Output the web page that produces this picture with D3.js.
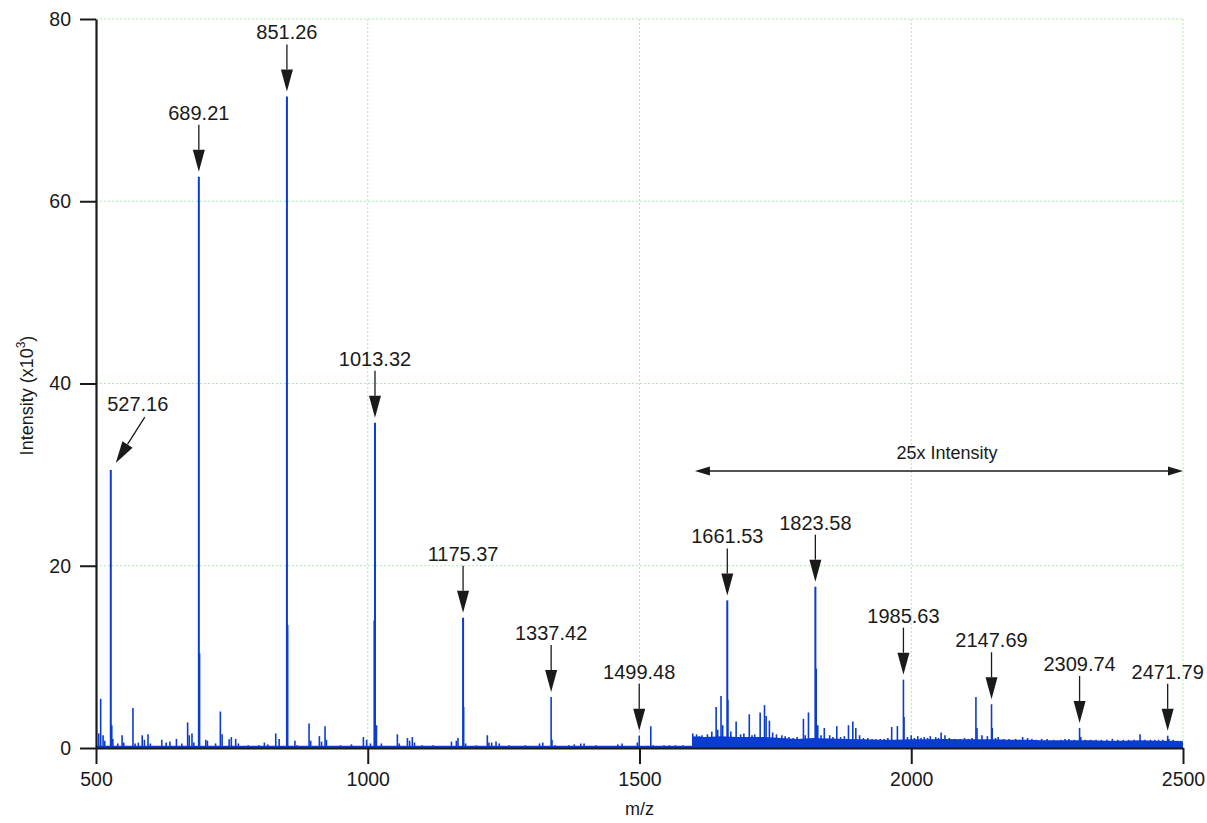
<!DOCTYPE html>
<html>
<head>
<meta charset="utf-8">
<script src="https://cdn.jsdelivr.net/npm/d3@7/dist/d3.min.js"></script>
<style>
  html, body { margin: 0; padding: 0; background: #fff; }
  svg { display: block; font-family: Arial, "Liberation Sans", sans-serif; }
</style>
</head>
<body>
<svg id="chart" width="1207" height="823"></svg>
<script>
// ---------------- DATA ----------------
const xTicks = [500, 1000, 1500, 2000, 2500];
const yTicks = [0, 20, 40, 60, 80];

// Peaks below 1600 m/z : [m/z, intensity (x10^3)]
const lowPeaks = [
  [505,1.6],[508.6,5.4],[513,1.4],[516,0.8],[527.2,30.5],[529,2.5],[531,1.0],[540,0.5],
  [548,1.4],[551,0.6],[568,4.4],[572,0.5],[578,0.6],[585,1.4],[589,0.9],[595.7,1.5],
  [600,0.5],[621,0.9],[629,0.6],[636,0.7],[648,1.0],[658,0.5],[668.6,2.8],[671.6,1.4],
  [676.6,1.6],[680,0.6],[689.2,62.7],[690.2,10.4],[702,0.9],[705,0.8],[720,0.5],[728.8,4.0],
  [732,1.5],[745,0.95],[749,1.2],[757,1.0],[762,0.5],[780,0.3],[800,0.3],[809.8,0.6],
  [816,0.4],[830.7,1.6],[837,1.0],[851.3,71.5],[852.3,13.5],[866,0.8],[870,0.3],[892,2.7],
  [895,0.8],[911,1.3],[915,0.7],[921.4,2.4],[924,0.9],[950,0.3],[970,0.4],[992,1.2],
  [998,0.9],[1005,0.5],[1013.3,35.7],[1012.3,14.0],[1016,2.5],[1025,0.5],[1054.5,1.5],[1058,0.5],
  [1073,1.1],[1077,0.8],[1082,1.2],[1086,0.6],[1100,0.3],[1120,0.3],[1154,0.7],[1163,0.8],
  [1166,1.1],[1175.4,14.3],[1176.4,4.5],[1180,0.5],[1200,0.3],[1220,1.4],[1223,0.6],[1228,0.6],
  [1236,0.7],[1242,0.5],[1260,0.3],[1290,0.3],[1316,0.5],[1322,0.6],[1337.4,5.6],[1339,0.9],
  [1345,0.3],[1370,0.3],[1380,0.4],[1392,0.5],[1398,0.5],[1420,0.3],[1460,0.4],[1468,0.5],
  [1496,0.6],[1499.5,1.35],[1520.8,2.4],[1525,0.3],[1545,0.3],[1555,0.3],[1566,0.3],[1580,0.3]
];

// Peaks in the 25x intensity region : [m/z, intensity (x10^3)]
const highPeaks = [
  [1598,1.6],[1605,1.5],[1610,1.3],[1615,1.4],[1620,1.2],[1625,1.5],[1633,1.8],[1641,4.5],
  [1644,2.0],[1650,5.7],[1653,2.5],[1661.5,16.2],[1662.6,5.3],[1668,1.8],[1677.8,2.9],[1686,1.5],
  [1692,1.6],[1702,3.7],[1707,1.4],[1712,1.5],[1722,3.9],[1730,4.7],[1733,3.5],[1739,3.0],
  [1745,1.7],[1752,1.5],[1762,1.4],[1768,1.3],[1775,1.2],[1783,1.1],[1790,1.2],[1801.6,3.2],
  [1805,1.4],[1810.9,3.9],[1823.6,17.7],[1824.7,8.7],[1828,2.5],[1834,1.4],[1840,2.2],[1850,1.4],
  [1856,1.2],[1863,2.4],[1870,1.2],[1877,1.3],[1884.5,2.5],[1892.5,2.9],[1898,2.2],[1905,1.4],
  [1912,1.1],[1920,1.1],[1928,1.0],[1935,1.0],[1943,1.0],[1950,1.0],[1957,1.1],[1964,2.3],
  [1974.5,2.4],[1985.6,7.5],[1986.7,3.4],[1993,1.2],[2000,1.4],[2006,1.1],[2012,1.3],[2018,1.1],
  [2024,1.2],[2030,1.1],[2035,1.3],[2045,1.2],[2050,1.1],[2055,1.7],[2062,1.4],[2070,1.1],
  [2080,1.0],[2090,1.0],[2098,1.1],[2105,1.0],[2112,1.1],[2119,5.6],[2121,2.2],[2130,1.4],
  [2140,1.3],[2147.7,4.8],[2149,2.2],[2155,1.1],[2160,1.2],[2170,1.0],[2180,1.0],[2192,1.0],
  [2205,1.2],[2214,1.1],[2222,1.0],[2230,0.9],[2240,1.0],[2250,1.0],[2262,0.9],[2275,0.9],
  [2283,1.0],[2290,1.0],[2300,0.9],[2309.7,2.2],[2312,1.2],[2320,0.9],[2330,0.9],[2340,0.9],
  [2350,0.9],[2360,0.9],[2370,1.0],[2380,0.9],[2390,0.9],[2400,0.9],[2410,0.9],[2421,1.5],
  [2430,0.9],[2440,0.9],[2448,0.9],[2455,0.9],[2463,0.9],[2471.8,1.35],[2474,1.0],[2482,0.9],
  [2490,0.8],[2496,0.8]
];

// Baseline (noise floor) level : [m/z, intensity (x10^3)]
const lowBaseline = [[500,0.25],[1597,0.25]];
const highBaseline = [
  [1597,1.3],[1620,1.2],[1650,1.3],[1680,1.2],[1700,1.2],[1730,1.2],[1760,1.1],[1790,1.0],
  [1820,1.1],[1850,1.05],[1880,1.0],[1910,0.95],[1940,0.9],[1970,0.9],[2000,0.95],[2030,0.95],
  [2060,1.0],[2090,0.95],[2120,0.95],[2150,0.95],[2180,0.9],[2210,0.9],[2240,0.85],[2270,0.85],
  [2300,0.85],[2330,0.85],[2360,0.8],[2390,0.8],[2420,0.85],[2450,0.8],[2480,0.8],[2500,0.75]
];

// Annotated peaks
const annLabels = ["527.16","689.21","851.26","1013.32","1175.37","1337.42","1499.48",
                   "1661.53","1823.58","1985.63","2147.69","2309.74","2471.79"];
const annMz     = [527.16, 689.21, 851.26, 1013.32, 1175.37, 1337.42, 1499.48,
                   1661.53, 1823.58, 1985.63, 2147.69, 2309.74, 2471.79];
const annInt    = [30.5, 62.7, 71.5, 35.7, 14.3, 5.6, 1.35, 16.2, 17.7, 7.5, 4.8, 2.2, 1.35];

const rangeLabel = "25x Intensity";
const rangeMz = [1602, 2500];
const rangeLevel = 30.4;

// ---------------- LAYOUT ----------------
const svg = d3.select("#chart");
const pL = 96, pR = 1183, pT = 19, pB = 748;
const x = d3.scaleLinear().domain([500, 2500]).range([pL, pR]);
const y = d3.scaleLinear().domain([0, 80]).range([pB, pT]);
const blue = "#0a3cd2";
const ink = "#1a1a1a";
const gridColor = "#a6eca6";

// gridlines
const grid = svg.append("g");
grid.selectAll("line.gx").data(xTicks.slice(1)).enter().append("line")
  .attr("x1", d => x(d)).attr("x2", d => x(d)).attr("y1", pT).attr("y2", pB)
  .attr("stroke", gridColor).attr("stroke-width", 1).attr("stroke-dasharray", "2,2");
grid.selectAll("line.gy").data(yTicks.slice(1)).enter().append("line")
  .attr("x1", pL).attr("x2", pR).attr("y1", d => y(d)).attr("y2", d => y(d))
  .attr("stroke", gridColor).attr("stroke-width", 1).attr("stroke-dasharray", "2,2");

// baseline bands
const area = d3.area().x(d => x(d[0])).y0(y(0)).y1(d => y(d[1]));
svg.append("path").datum(lowBaseline).attr("d", area).attr("fill", blue);
svg.append("path").datum(highBaseline).attr("d", area).attr("fill", blue);

// peaks as sticks
const allPeaks = lowPeaks.concat(highPeaks);
svg.append("g").selectAll("line").data(allPeaks).enter().append("line")
  .attr("x1", d => x(d[0])).attr("x2", d => x(d[0]))
  .attr("y1", y(0)).attr("y2", d => y(d[1]))
  .attr("stroke", blue)
  .attr("stroke-width", d => d[1] > 8 ? 2 : 1.6);

// axes
const xAxis = d3.axisBottom(x).tickValues(xTicks).tickFormat(d3.format("d"))
  .tickSize(16).tickPadding(8).tickSizeOuter(0);
const gx = svg.append("g").attr("transform", `translate(0,${pB})`).call(xAxis);
gx.select(".domain").attr("stroke", ink).attr("stroke-width", 2.2);
gx.selectAll(".tick line").attr("stroke", ink).attr("stroke-width", 2);
gx.selectAll(".tick text").attr("font-size", 19.5).attr("fill", ink)
  .attr("font-family", "Arial, 'Liberation Sans', sans-serif");

const yAxis = d3.axisLeft(y).tickValues(yTicks).tickFormat(d3.format("d"))
  .tickSize(16).tickPadding(9).tickSizeOuter(0);
const gy = svg.append("g").attr("transform", `translate(${pL},0)`).call(yAxis);
gy.select(".domain").attr("stroke", ink).attr("stroke-width", 2.2);
gy.selectAll(".tick line").attr("stroke", ink).attr("stroke-width", 2);
gy.selectAll(".tick text").attr("font-size", 19.5).attr("fill", ink)
  .attr("font-family", "Arial, 'Liberation Sans', sans-serif");

// axis titles
svg.append("text").attr("x", (pL + pR) / 2).attr("y", 815)
  .attr("text-anchor", "middle").attr("font-size", 18).attr("fill", ink).text("m/z");
const yt = svg.append("text")
  .attr("transform", `translate(33,${(pT + pB) / 2 + 12}) rotate(-90)`)
  .attr("text-anchor", "middle").attr("font-size", 18).attr("fill", ink);
yt.append("tspan").text("Intensity (x10");
yt.append("tspan").attr("dy", -8).attr("font-size", 12).text("3");
yt.append("tspan").attr("dy", 8).text(")");

// arrow helper
function arrow(g, x1, y1, x2, y2, headLen, headW) {
  const dx = x2 - x1, dy = y2 - y1, L = Math.hypot(dx, dy);
  const ux = dx / L, uy = dy / L;
  const bx = x2 - ux * headLen, by = y2 - uy * headLen;
  g.append("line").attr("x1", x1).attr("y1", y1).attr("x2", bx).attr("y2", by)
    .attr("stroke", ink).attr("stroke-width", 1.3);
  const px = -uy * headW / 2, py = ux * headW / 2;
  g.append("path")
    .attr("d", `M${x2},${y2}L${bx + px},${by + py}L${bx - px},${by - py}Z`)
    .attr("fill", ink);
}

// annotations
const ann = svg.append("g");
annLabels.forEach((lab, i) => {
  const px = x(annMz[i]), py = y(annInt[i]);
  if (i === 0) {
    const tipX = px + 5, tipY = py - 7;
    arrow(ann, px + 34, py - 53, tipX, tipY, 22, 12);
    ann.append("text").attr("x", px + 27).attr("y", py - 59)
      .attr("text-anchor", "middle").attr("font-size", 20).attr("fill", ink).text(lab);
  } else {
    const tipY = py - 5, tailY = tipY - 47;
    arrow(ann, px, tailY, px, tipY, 22, 12);
    ann.append("text").attr("x", px).attr("y", tailY - 5)
      .attr("text-anchor", "middle").attr("font-size", 20).attr("fill", ink).text(lab);
  }
});

// 25x intensity range arrow
const ry = y(rangeLevel);
const rx1 = x(rangeMz[0]), rx2 = x(rangeMz[1]);
const rg = svg.append("g");
rg.append("line").attr("x1", rx1 + 14).attr("x2", rx2 - 14).attr("y1", ry).attr("y2", ry)
  .attr("stroke", ink).attr("stroke-width", 1.3);
rg.append("path").attr("d", `M${rx1},${ry}L${rx1 + 15},${ry - 4.5}L${rx1 + 15},${ry + 4.5}Z`).attr("fill", ink);
rg.append("path").attr("d", `M${rx2},${ry}L${rx2 - 15},${ry - 4.5}L${rx2 - 15},${ry + 4.5}Z`).attr("fill", ink);
rg.append("text").attr("x", (rx1 + rx2) / 2 + 8).attr("y", ry - 12)
  .attr("text-anchor", "middle").attr("font-size", 18).attr("fill", ink).text(rangeLabel);
</script>
</body>
</html>
